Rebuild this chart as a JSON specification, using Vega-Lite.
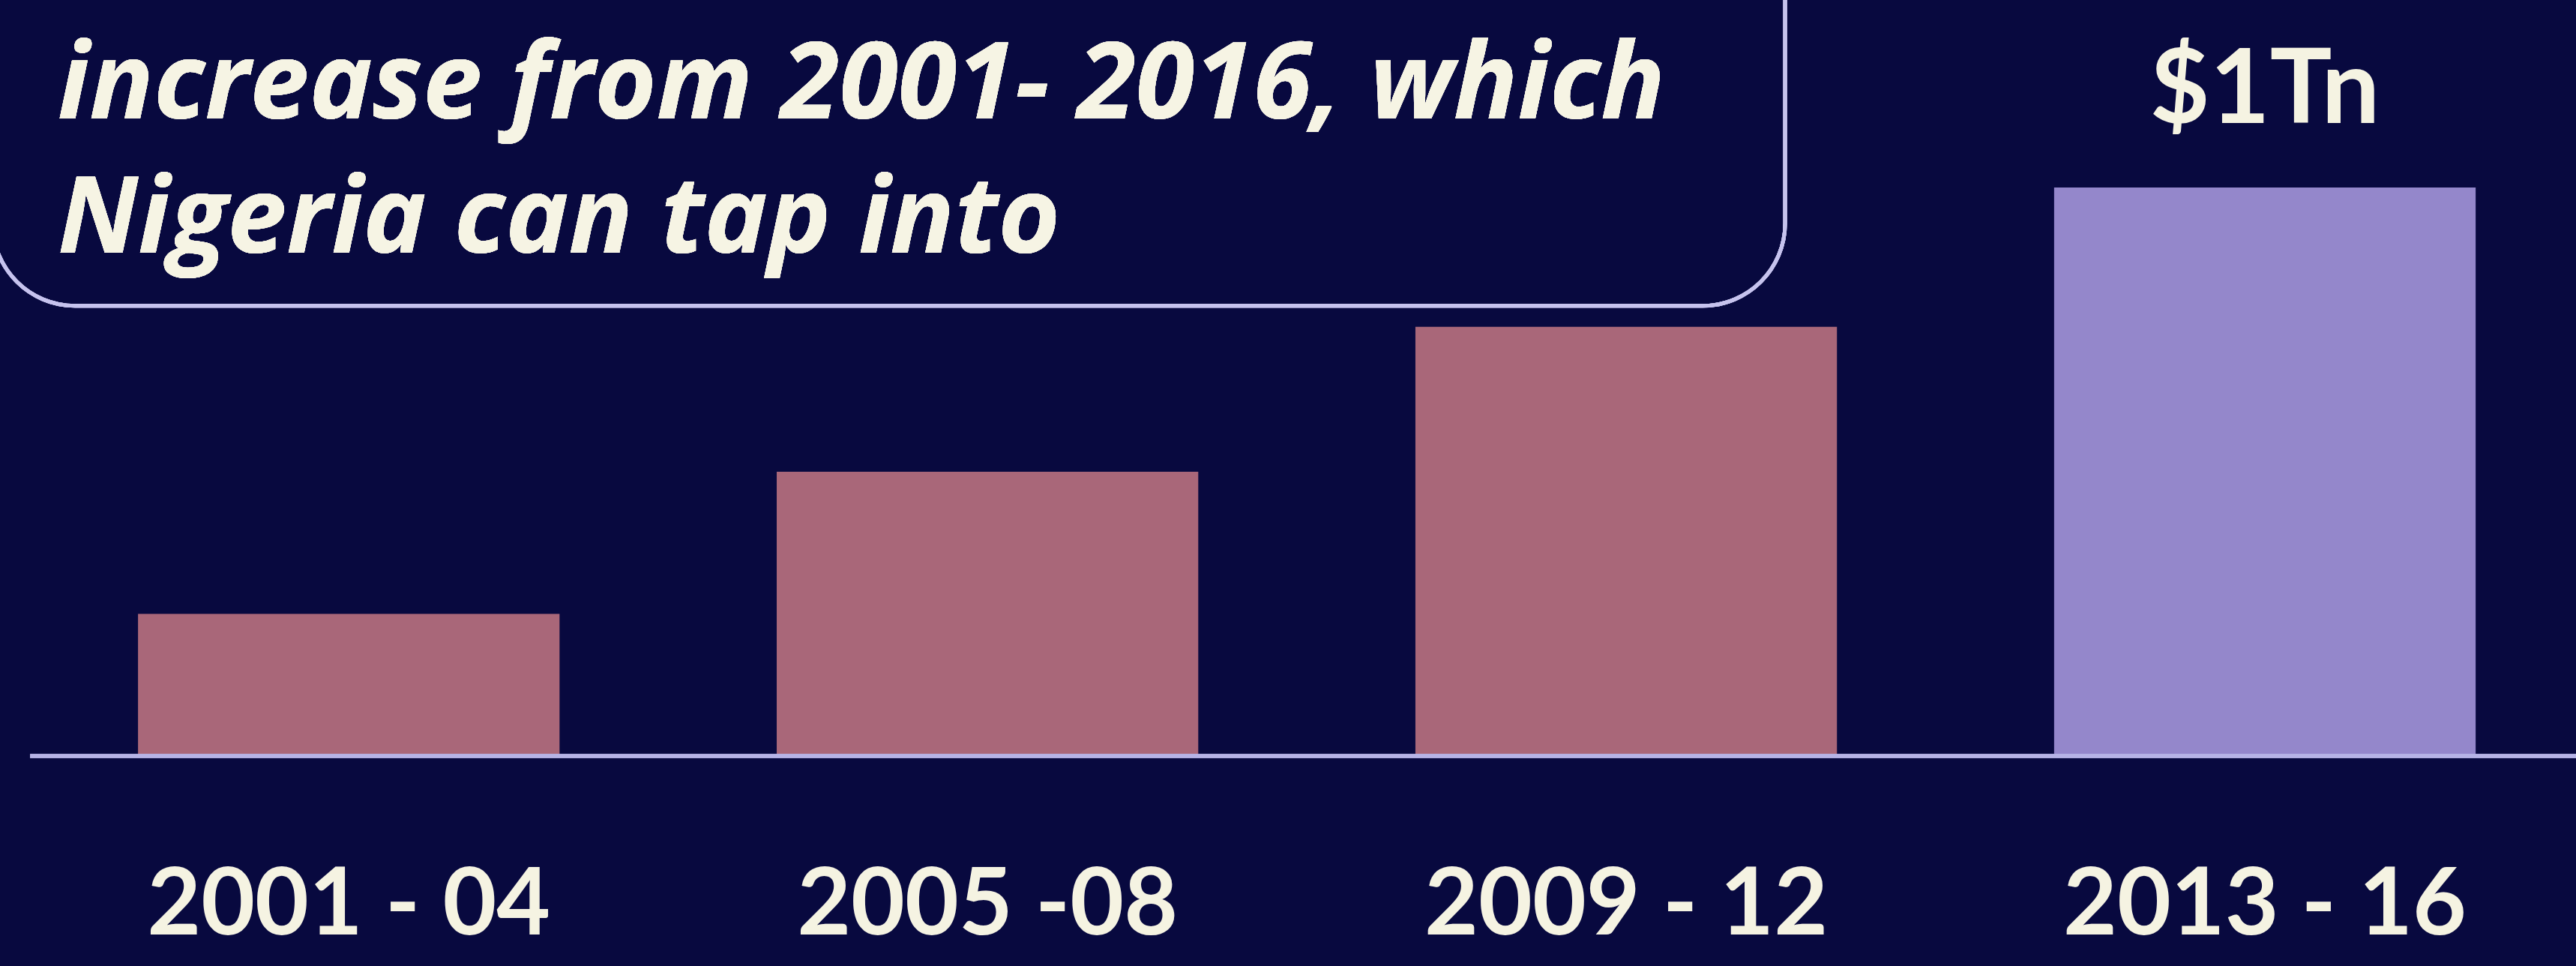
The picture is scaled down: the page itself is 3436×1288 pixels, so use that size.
{
  "$schema": "https://vega.github.io/schema/vega-lite/v6.json",
  "width": 3436,
  "height": 1008,
  "autosize": {"type": "none"},
  "padding": {"left": 0, "top": 0, "right": 0, "bottom": 280},
  "background": "#08093f",
  "config": {"view": {"stroke": null}, "font": "Lato"},
  "data": {
    "values": [
      {"period": "2001 - 04", "value": 0.25, "label": ""},
      {"period": "2005 -08", "value": 0.5, "label": ""},
      {"period": "2009 - 12", "value": 0.755, "label": ""},
      {"period": "2013 - 16", "value": 1.0, "label": "$1Tn"}
    ]
  },
  "encoding": {
    "x": {
      "field": "period",
      "type": "nominal",
      "sort": null,
      "scale": {"paddingInner": 0.34, "paddingOuter": 0.1866, "align": 0.579},
      "axis": {
        "title": null,
        "labelAngle": 0,
        "ticks": false,
        "domain": false,
        "labelLimit": 0,
        "labelFont": "Lato",
        "labelFontSize": 124,
        "labelFontWeight": "bold",
        "labelColor": "#f5f3e2",
        "labelBaseline": "alphabetic",
        "labelPadding": 237,
        "grid": false
      }
    },
    "y": {
      "field": "value",
      "type": "quantitative",
      "scale": {"domain": [0, 1.33]},
      "axis": null
    }
  },
  "layer": [
    {
      "mark": {"type": "bar"},
      "encoding": {
        "color": {
          "field": "period",
          "type": "nominal",
          "sort": null,
          "scale": {"range": ["#a96779", "#a96779", "#a96779", "#9487cb"]},
          "legend": null
        }
      }
    },
    {
      "mark": {"type": "rule", "stroke": "#b6b3e6", "strokeWidth": 5},
      "encoding": {
        "x": {"datum": "2001 - 04", "bandPosition": -0.256},
        "x2": {"datum": "2013 - 16", "bandPosition": 1.3},
        "y": {"datum": 0},
        "color": {"value": "#b6b3e6"}
      }
    },
    {
      "mark": {"type": "text", "baseline": "alphabetic", "dy": -86, "fontSize": 138, "fontWeight": "bold", "color": "#f5f3e2", "font": "Lato"},
      "encoding": {"text": {"field": "label"}}
    },
    {
      "mark": {"type": "rect", "fill": null, "stroke": "#c6c3ee", "strokeWidth": 5, "cornerRadius": 110},
      "encoding": {
        "x": {"datum": "2001 - 04", "bandPosition": -0.345},
        "x2": {"datum": "2009 - 12", "bandPosition": 0.877},
        "y": {"datum": 1.6},
        "y2": {"datum": 0.792},
        "color": {"value": null}
      }
    },
    {
      "mark": {"type": "text", "align": "left", "baseline": "alphabetic", "fontSize": 142, "fontWeight": "bold", "fontStyle": "italic", "color": "#f6f4e4", "font": "Open Sans", "dx": -107},
      "encoding": {
        "x": {"datum": "2001 - 04", "bandPosition": 0},
        "y": {"datum": 1.122},
        "text": {"value": "increase from 2001- 2016, which"}
      }
    },
    {
      "mark": {"type": "text", "align": "left", "baseline": "alphabetic", "fontSize": 142, "fontWeight": "bold", "fontStyle": "italic", "color": "#f6f4e4", "font": "Open Sans", "dx": -107},
      "encoding": {
        "x": {"datum": "2001 - 04", "bandPosition": 0},
        "y": {"datum": 0.885},
        "text": {"value": "Nigeria can tap into"}
      }
    }
  ]
}
